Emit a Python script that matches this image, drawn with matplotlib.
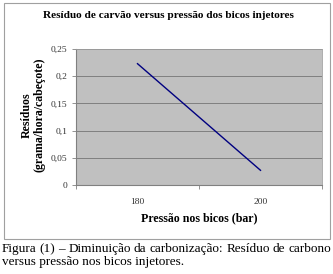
import matplotlib
matplotlib.use("Agg")
import matplotlib.pyplot as plt
from matplotlib.patches import Rectangle

categories = ["180", "200"]
residuos = [0.223, 0.027]
yticks = [0, 0.05, 0.1, 0.15, 0.2, 0.25]
ytick_labels = ["0", "0,05", "0,1", "0,15", "0,2", "0,25"]

plt.rcParams['font.family'] = ['Liberation Serif', 'DejaVu Serif']

W, H = 333, 274
fig = plt.figure(figsize=(W/100, H/100), dpi=100)
fig.patch.set_facecolor('white')

# outer chart border
fig.add_artist(Rectangle((4/W, 1 - 239/H), (330-4)/W, (239-3)/H, transform=fig.transFigure,
                         fill=False, edgecolor='#a0a0a0', linewidth=0.8))

left, right, top, bottom = 76, 322, 49, 185
ax = fig.add_axes([left/W, 1 - bottom/H, (right-left)/W, (bottom-top)/H])
ax.set_facecolor('#c0c0c0')
x = list(range(len(categories)))
ax.plot(x, residuos, color='#000080', linewidth=1.0)
ax.set_xlim(-0.5, len(categories) - 0.5)
ax.set_ylim(0, 0.25)
ax.set_yticks(yticks)
ax.set_yticklabels(ytick_labels)
ax.set_xticks(x)
ax.set_xticklabels(categories)
ax.set_xticks([-0.5, 0.5, 1.5], minor=True)
ax.tick_params(axis='x', which='major', length=0, pad=9, labelsize=6.8, labelcolor='#333333')
ax.tick_params(axis='x', which='minor', length=3, width=0.6, color='#808080')
ax.tick_params(axis='y', length=3, width=0.6, color='#808080', labelsize=6.8, labelcolor='#333333', pad=3)
ax.grid(axis='y', color='#808080', linewidth=0.7)
ax.set_axisbelow(True)
for s in ['top', 'right']:
    ax.spines[s].set_color('#a0a0a0')
    ax.spines[s].set_linewidth(0.6)
for s in ['left', 'bottom']:
    ax.spines[s].set_color('#808080')
    ax.spines[s].set_linewidth(0.8)

fig.text(168/W, 1 - 16/H, "Resíduo de carvão versus pressão dos bicos injetores",
         ha='center', va='center', fontsize=8.1, fontweight='bold')
fig.text(199/W, 1 - 218/H, "Pressão nos bicos (bar)", ha='center', va='center',
         fontsize=8.6, fontweight='bold')
fig.text(33/W, 1 - 115/H, "Resíduos\n(grama/hora/cabeçote)", ha='center', va='center',
         rotation=90, fontsize=8.6, fontweight='bold', linespacing=1.05, multialignment='center')

# caption, first line justified to the full width
cap1_words = ["Figura", "(1)", "–", "Diminuição", "da", "carbonização:", "Resíduo", "de", "carbono"]
fs_cap = 9.5
renderer = fig.canvas.get_renderer()
x0, x1 = 2, 331
tmp = [fig.text(0, 0, w, fontsize=fs_cap) for w in cap1_words]
widths = [t.get_window_extent(renderer).width for t in tmp]
for t in tmp:
    t.remove()
gap = (x1 - x0 - sum(widths)) / (len(cap1_words) - 1)
xp = x0
for w, wd in zip(cap1_words, widths):
    fig.text(xp/W, 1 - 249/H, w, ha='left', va='center', fontsize=fs_cap)
    xp += wd + gap
fig.text(2/W, 1 - 262/H, "versus pressão nos bicos injetores.",
         ha='left', va='center', fontsize=fs_cap)

fig.savefig("out.png", dpi=100)
